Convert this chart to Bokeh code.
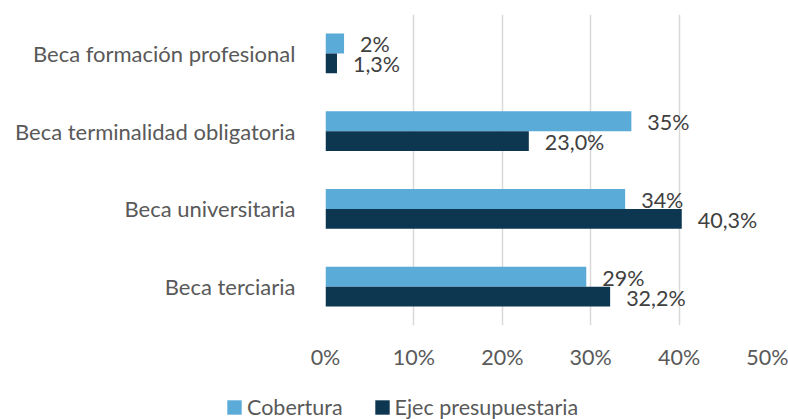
from bokeh.plotting import figure
from bokeh.layouts import column
from bokeh.models import FactorRange, Range1d, FixedTicker, Legend, LegendItem, ColumnDataSource
from bokeh.transform import dodge
from bokeh.core.properties import value
from bokeh.embed import file_html
from bokeh.resources import INLINE

categories = ["Beca formación profesional", "Beca terminalidad obligatoria",
              "Beca universitaria", "Beca terciaria"]
cobertura = [2.1, 34.6, 33.9, 29.5]
cobertura_labels = ["2%", "35%", "34%", "29%"]
ejec = [1.3, 23.0, 40.3, 32.2]
ejec_labels = ["1,3%", "23,0%", "40,3%", "32,2%"]
x_ticks = [0, 10, 20, 30, 40, 50]
x_tick_labels = ["0%", "10%", "20%", "30%", "40%", "50%"]
series_names = ["Cobertura", "Ejec presupuestaria"]

FONT = "Lato"
FS = "21.5px"
C_COB = "#5BABD8"
C_EJE = "#0D3650"

src = ColumnDataSource(dict(cat=categories, cob=cobertura, cobl=cobertura_labels,
                            eje=ejec, ejel=ejec_labels))

p = figure(width=788, height=390, output_backend="svg", toolbar_location=None,
           y_range=FactorRange(*categories[::-1], range_padding=0),
           x_range=Range1d(0, 50),
           min_border_left=325, min_border_right=21, min_border_top=14, min_border_bottom=65)
p.outline_line_color = None
p.frame_align = False

bh = 0.257
r1 = p.hbar(y=dodge("cat", bh / 2, range=p.y_range), right="cob", left=0, height=bh,
            source=src, fill_color=C_COB, line_color=None)
r2 = p.hbar(y=dodge("cat", -bh / 2, range=p.y_range), right="eje", left=0, height=bh,
            source=src, fill_color=C_EJE, line_color=None)

p.text(x="cob", y=dodge("cat", bh / 2, range=p.y_range), text="cobl", source=src,
       x_offset=16, y_offset=1, text_align="left", text_baseline="middle",
       text_font=value(FONT), text_font_size=FS, text_color="#404040")
p.text(x="eje", y=dodge("cat", -bh / 2, range=p.y_range), text="ejel", source=src,
       x_offset=16, y_offset=1, text_align="left", text_baseline="middle",
       text_font=value(FONT), text_font_size=FS, text_color="#404040")

p.xgrid.ticker = FixedTicker(ticks=x_ticks)
p.xgrid.grid_line_color = "#D9D9D9"
p.xgrid.grid_line_width = 1.5
p.ygrid.grid_line_color = None

p.xaxis.ticker = FixedTicker(ticks=x_ticks)
p.xaxis.major_label_overrides = {t: l for t, l in zip(x_ticks, x_tick_labels)}
p.xaxis.axis_line_color = None
p.xaxis.major_tick_line_color = None
p.xaxis.minor_tick_line_color = None
p.xaxis.major_label_text_font = FONT
p.xaxis.major_label_text_font_size = FS
p.xaxis.major_label_text_color = "#595959"
p.xaxis.major_label_standoff = 12

p.yaxis.axis_line_color = None
p.yaxis.major_tick_line_color = None
p.yaxis.minor_tick_line_color = None
p.yaxis.major_label_text_font = FONT
p.yaxis.major_label_text_font_size = "22px"
p.yaxis.major_label_text_color = "#595959"
p.yaxis.major_label_standoff = 24

# legend strip below the chart (zero-size bars only provide the legend swatches)
lg = figure(width=788, height=29, output_backend="svg", toolbar_location=None,
            x_range=Range1d(0, 50), y_range=Range1d(0, 1),
            min_border=0, min_border_left=0, min_border_right=0,
            min_border_top=0, min_border_bottom=0)
lg.frame_align = False
lg.axis.visible = False
lg.grid.visible = False
lg.outline_line_color = None
d1 = lg.hbar(y=0.5, left=0, right=0, height=0, source=src,
             fill_color=C_COB, line_color=None)
d2 = lg.hbar(y=0.5, left=0, right=0, height=0, source=src,
             fill_color=C_EJE, line_color=None)
legend = Legend(items=[LegendItem(label=series_names[0], renderers=[d1]),
                       LegendItem(label=series_names[1], renderers=[d2])],
                orientation="horizontal", location=(225, -1),
                glyph_width=18, glyph_height=18, label_standoff=4, spacing=30,
                padding=0, margin=0, border_line_color=None, background_fill_alpha=0,
                label_text_font=FONT, label_text_font_size=FS,
                label_text_color="#595959", label_height=14)
lg.add_layout(legend, "center")

layout = column(p, lg, spacing=0)
open("out.html", "w").write(file_html(layout, INLINE))
